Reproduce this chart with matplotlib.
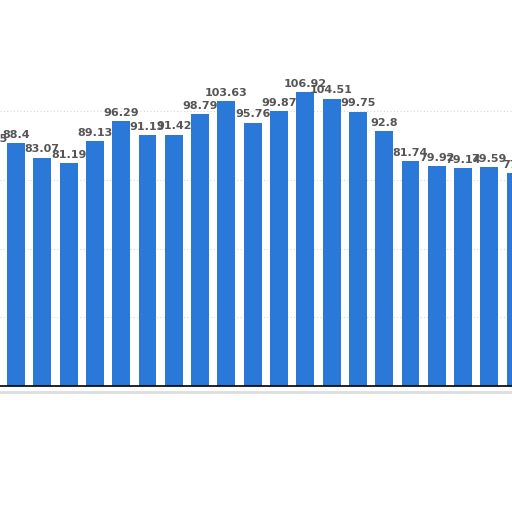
import matplotlib
matplotlib.use("Agg")
import matplotlib.pyplot as plt

values = [86.75, 88.4, 83.07, 81.19, 89.13, 96.29, 91.13, 91.42, 98.79, 103.63,
          95.76, 99.87, 106.92, 104.51, 99.75, 92.8, 81.74, 79.92, 79.14, 79.59, 77.5]
labels = ["86.75", "88.4", "83.07", "81.19", "89.13", "96.29", "91.13", "91.42", "98.79", "103.63",
          "95.76", "99.87", "106.92", "104.51", "99.75", "92.8", "81.74", "79.92", "79.14", "79.59", "77.5"]
grid_vals = [25, 50, 75, 100]

positions = list(range(-1, len(values) - 1))

fig = plt.figure(figsize=(5.12, 5.12), dpi=100)
ax = fig.add_axes([0, 0, 1, 1])
ax.set_xlim(-0.608, 18.86)
ax.set_ylim(-45.8, 140.4)
for s in ax.spines.values():
    s.set_visible(False)
ax.set_xticks([])
ax.set_yticks([])

for g in grid_vals:
    ax.axhline(g, color="#d8d8d8", lw=0.8, ls=(0, (1, 2)), zorder=0)

ax.bar(positions, values, width=0.68, color="#2a78d8", zorder=2)
for p, v, t in zip(positions, values, labels):
    ax.text(p, v + 1.2, t, ha="center", va="bottom", fontsize=8,
            fontweight="bold", color="#555555", zorder=3)

ax.axhline(0, color="black", lw=1.2, zorder=4)
ax.axhline(-2.2, color="#dddddd", lw=2.0, zorder=1)

fig.savefig("out.png", dpi=100)
